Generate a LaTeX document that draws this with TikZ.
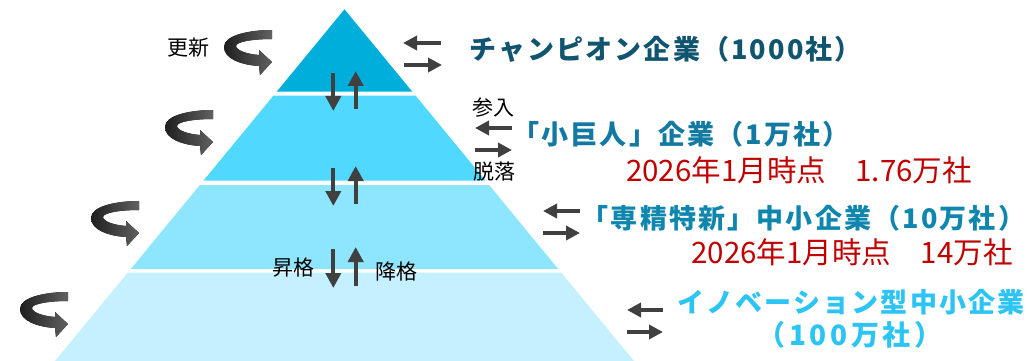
\documentclass[tikz,border=0pt]{standalone}
\usepackage{fontspec}
\newfontfamily\jp{Noto Sans CJK JP}
\newfontfamily\jpls[LetterSpace=8]{Noto Sans CJK JP}
\newfontfamily\jpwide[LetterSpace=13]{Noto Sans CJK JP}
\usetikzlibrary{arrows.meta}
\definecolor{tierA}{RGB}{0,174,219}
\definecolor{tierB}{RGB}{80,216,255}
\definecolor{tierC}{RGB}{142,229,254}
\definecolor{tierD}{RGB}{197,240,255}
\definecolor{arrowgray}{RGB}{64,64,64}
\definecolor{lblA}{RGB}{16,84,112}
\definecolor{lblB}{RGB}{18,122,162}
\definecolor{lblC}{RGB}{14,134,174}
\definecolor{lblD}{RGB}{44,196,245}
\definecolor{redtxt}{RGB}{192,0,0}
\tikzset{
  small/.style={inner sep=0pt, font=\jp\fontsize{21}{24}\selectfont, text=black},
  biglbl/.style={inner sep=0pt, font=\jpls\bfseries\fontsize{27}{30}\selectfont},
  widelbl/.style={inner sep=0pt, font=\jpwide\bfseries\fontsize{28}{30}\selectfont},
  redlbl/.style={inner sep=0pt, font=\jp\fontsize{29.5}{32}\selectfont, text=redtxt},
  straw/.style={draw=arrowgray, line width=4.2pt, -{Triangle[length=15pt,width=15pt]}},
  horw/.style={draw=arrowgray, line width=4.2pt, -{Triangle[length=14pt,width=14pt]}},
  rotarrow/.pic={
    \fill[left color=black!88, right color=black!62]
      (0,0) .. controls (-22,0) and (-48,5) .. (-48,17)
      .. controls (-48,29) and (-30,35) .. (-13,36)
      -- (-12,45) -- (0,32) -- (-13,20) -- (-13,25)
      .. controls (-26,24) and (-36,20) .. (-36,16)
      .. controls (-36,12) and (-20,9) .. (0,9) -- cycle;
  }
}
\begin{document}
\begin{tikzpicture}[x=1pt,y=-1pt]
\useasboundingbox[fill=white] (0,0) rectangle (1029,361);
% pyramid tiers
\fill[tierA] (344.5,9.3) -- (412.3,91.7) -- (276.7,91.7) -- cycle;
\fill[tierB] (273.4,95.7) -- (415.6,95.7) -- (485.6,180.7) -- (203.4,180.7) -- cycle;
\fill[tierC] (199.9,185) -- (489.1,185) -- (558.2,269) -- (130.8,269) -- cycle;
\fill[tierD] (127.7,272.7) -- (561.3,272.7) -- (634.0,361) -- (55.0,361) -- cycle;

% rotation arrows
\pic at (272,30) {rotarrow};
\pic at (213,110) {rotarrow};
\pic at (139,201) {rotarrow};
\pic at (68,292) {rotarrow};

% vertical arrows
\coordinate (d1a) at (333.3,73); \coordinate (d1b) at (333.3,111);
\coordinate (u1a) at (355.7,109); \coordinate (u1b) at (355.7,71);
\coordinate (d2a) at (333.3,168); \coordinate (d2b) at (333.3,206);
\coordinate (u2a) at (355.7,204); \coordinate (u2b) at (355.7,166);
\coordinate (d3a) at (333.3,249); \coordinate (d3b) at (333.3,288);
\coordinate (u3a) at (355.7,286); \coordinate (u3b) at (355.7,247);
\draw[straw] (d1a) -- (d1b);
\draw[straw] (u1a) -- (u1b);
\draw[straw] (d2a) -- (d2b);
\draw[straw] (u2a) -- (u2b);
\draw[straw] (d3a) -- (d3b);
\draw[straw] (u3a) -- (u3b);

% horizontal arrow pairs
\coordinate (h1a) at (441,43); \coordinate (h1b) at (403,43);
\coordinate (h1c) at (404,65); \coordinate (h1d) at (442,65);
\coordinate (h2a) at (512,128); \coordinate (h2b) at (475,128);
\coordinate (h2c) at (475,150); \coordinate (h2d) at (512,150);
\coordinate (h3a) at (580,211); \coordinate (h3b) at (543,211);
\coordinate (h3c) at (543,233); \coordinate (h3d) at (580,233);
\coordinate (h4a) at (663,310); \coordinate (h4b) at (627,310);
\coordinate (h4c) at (627,332); \coordinate (h4d) at (663,332);
\draw[horw] (h1a) -- (h1b);
\draw[horw] (h1c) -- (h1d);
\draw[horw] (h2a) -- (h2b);
\draw[horw] (h2c) -- (h2d);
\draw[horw] (h3a) -- (h3b);
\draw[horw] (h3c) -- (h3d);
\draw[horw] (h4a) -- (h4b);
\draw[horw] (h4c) -- (h4d);

% labels
\node[small] (koshin) at (188.5,48) {更新};
\node[small] (sannyu) at (493.5,108) {参入};
\node[small] (datsuraku) at (494,172) {脱落};
\node[small] (shokaku) at (293.5,268) {昇格};
\node[small] (kokaku) at (396,272) {降格};

\node[biglbl, text=lblA, anchor=west] (champ) at (469,49) {チャンピオン企業（1000社）};
\node[biglbl, text=lblB] (kyojin) at (681,134) {「小巨人」企業（1万社）};
\node[redlbl] (red1) at (799,170) {2026年1月時点　1.76万社};
\node[biglbl, text=lblC] (senmon) at (803.5,218) {「専精特新」中小企業（10万社）};
\node[redlbl] (red2) at (852,252) {2026年1月時点　14万社};
\node[biglbl, text=lblD] (innov) at (851,302) {イノベーション型中小企業};
\node[widelbl, text=lblD] (innov2) at (850,335) {（100万社）};
\end{tikzpicture}
\end{document}
